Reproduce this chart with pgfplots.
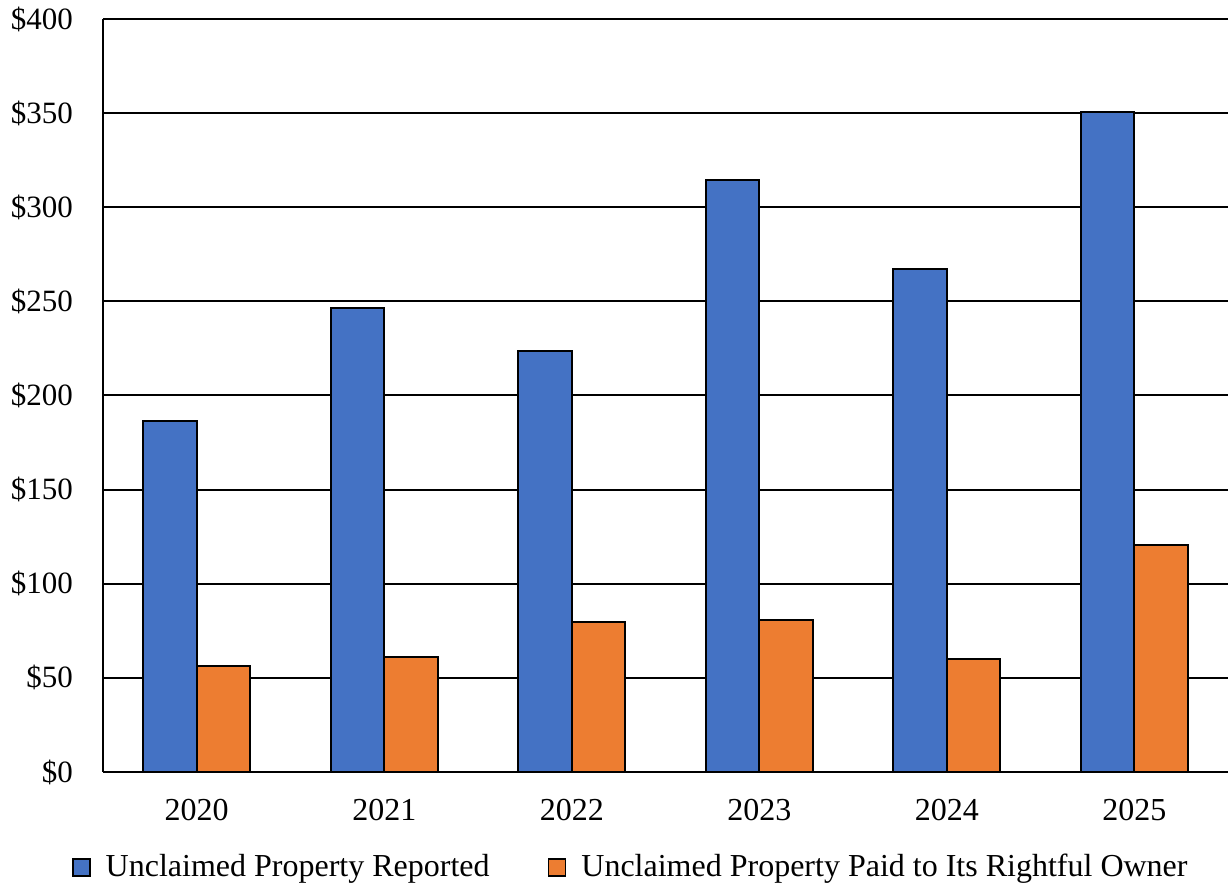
\documentclass[border=0pt]{standalone}
\usepackage{fontspec}
\setmainfont{Liberation Serif}
\usepackage{pgfplots}
\pgfplotsset{compat=1.18}
\definecolor{cblue}{HTML}{4472C4}
\definecolor{corange}{HTML}{ED7D31}
\begin{document}
\fontsize{16}{19}\selectfont
\begin{tikzpicture}
\useasboundingbox (-51.5pt,-434.5pt) rectangle (564pt,9.5pt);
\begin{axis}[
  at={(0,0)}, anchor=north west,
  scale only axis, width=562.5pt, height=376.5pt,
  ybar, bar width=26.75pt, ybar=0pt,
  xmin=-0.5, xmax=5.5, ymin=0, ymax=400,
  xtick=data, xticklabels={2020,2021,2022,2023,2024,2025},
  ytick={0,50,...,400},
  yticklabels={\$0,\$50,\$100,\$150,\$200,\$250,\$300,\$350,\$400},
  axis x line=bottom, axis y line=left,
  axis line style={-, line width=1pt, black},
  major tick length=0pt,
  ymajorgrids, grid style={line width=1pt, black},
  yticklabel style={font=\fontsize{15.5}{18}\selectfont, xshift=-9.5pt},
  xticklabel style={font=\fontsize{16}{19}\selectfont, yshift=-8pt},
  legend style={at={(0.47,-0.127)}, anchor=center, draw=none, fill=none,
    font=\fontsize{16}{19}\selectfont, legend columns=2,
    /tikz/every even column/.append style={column sep=27pt}},
  legend image code/.code={\draw[#1, line width=0.9pt] (0pt,-4.25pt) rectangle (8.5pt,4.25pt); \path (14pt,0pt);},
  every axis plot/.append style={draw=black, line width=0.9pt},
  clip=false,
]
\addplot[fill=cblue] coordinates {(0,186.5) (1,246.5) (2,223.6) (3,314.5) (4,267.2) (5,350.6)};
\addplot[fill=corange] coordinates {(0,56.2) (1,61.1) (2,79.7) (3,80.7) (4,60.0) (5,120.6)};
\legend{Unclaimed Property Reported, Unclaimed Property Paid to Its Rightful Owner}
\end{axis}
\end{tikzpicture}
\end{document}
